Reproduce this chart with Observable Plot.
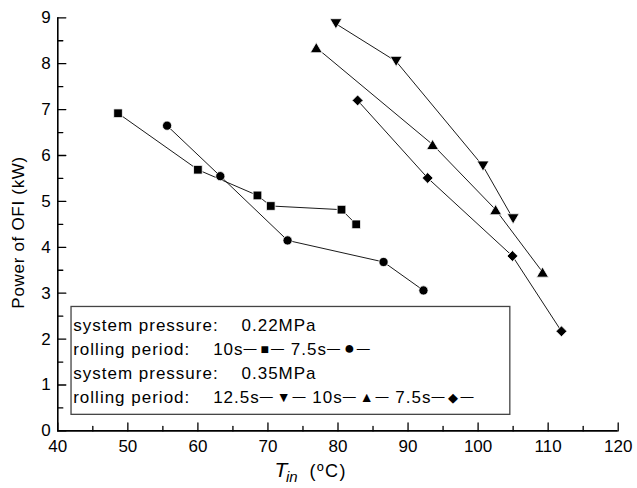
<!DOCTYPE html>
<html>
<head>
<meta charset="utf-8">
<script src="https://cdn.jsdelivr.net/npm/d3@7"></script>
<script src="https://cdn.jsdelivr.net/npm/@observablehq/plot@0.6"></script>
<style>
  body { margin: 0; background: white; }
</style>
</head>
<body>
<script>
// ---- data ----
const sq10X = [48.6, 60.0, 68.5, 70.4, 80.5, 82.6];
const sq10Y = [6.92, 5.69, 5.13, 4.90, 4.82, 4.50];
const ci75X = [55.6, 63.2, 72.8, 86.5, 92.2];
const ci75Y = [6.65, 5.55, 4.15, 3.68, 3.06];
const dn125X = [79.7, 88.3, 100.7, 105.0];
const dn125Y = [8.87, 8.05, 5.77, 4.62];
const up10X = [76.9, 93.5, 102.5, 109.2];
const up10Y = [8.35, 6.24, 4.82, 3.46];
const di75X = [82.8, 92.8, 104.9, 111.9];
const di75Y = [7.20, 5.51, 3.81, 2.17];

const xMajor = [40, 50, 60, 70, 80, 90, 100, 110, 120];
const xMinor = [45, 55, 65, 75, 85, 95, 105, 115];
const yMajor = [0, 1, 2, 3, 4, 5, 6, 7, 8, 9];
const yMinor = [0.5, 1.5, 2.5, 3.5, 4.5, 5.5, 6.5, 7.5, 8.5];

const yLabel = "Power of OFI (kW)";
const xLabelMain = "T";
const xLabelSub = "in";
const xLabelUnit = "(ºC)";
const NB = "\u00A0";
const legendRows = [
  "system pressure:" + NB.repeat(4) + "0.22MPa",
  "rolling period:" + NB.repeat(4) + "10s—■— 7.5s—●—",
  "system pressure:" + NB.repeat(4) + "0.35MPa",
  "rolling period:" + NB.repeat(4) + "12.5s—▼— 10s—▲— 7.5s—◆—"
];

// ---- helpers ----
const zip = (xs, ys) => xs.map((x, i) => ({x, y: ys[i]}));
const triUp = {draw(c, size) { const r = Math.sqrt(size / Math.PI), w = 1.3 * r, h = 1.1 * r;
  c.moveTo(0, -h); c.lineTo(w, h); c.lineTo(-w, h); c.closePath(); }};
const triDown = {draw(c, size) { const r = Math.sqrt(size / Math.PI), w = 1.3 * r, h = 1.1 * r;
  c.moveTo(0, h); c.lineTo(w, -h); c.lineTo(-w, -h); c.closePath(); }};
const tickShape = {draw(c, l) { c.moveTo(0, 0); c.lineTo(0, -l); }};

const series = [
  {data: zip(sq10X, sq10Y), symbol: "square", r: 4.9},
  {data: zip(ci75X, ci75Y), symbol: "circle", r: 4.6},
  {data: zip(dn125X, dn125Y), symbol: triDown, r: 4.6},
  {data: zip(up10X, up10Y), symbol: triUp, r: 4.6},
  {data: zip(di75X, di75Y), symbol: "diamond2", r: 4.9}
];

const seriesMarks = series.flatMap(s => [
  Plot.line(s.data, {x: "x", y: "y", stroke: "black", strokeWidth: 0.9}),
  Plot.dot(s.data, {x: "x", y: "y", symbol: s.symbol, r: s.r, fill: "black", stroke: "white", strokeWidth: 0.8})
]);

// legend layout (data units of the frame)
const legendBox = [{x1: 41.96, x2: 104.6, y1: 0.35, y2: 2.70}];
const legendX = 42.2, legendTop = 2.185, legendStep = 0.523;

const chart = Plot.plot({
  width: 637,
  height: 488,
  marginLeft: 57.3,
  marginRight: 19.3,
  marginTop: 17.3,
  marginBottom: 57.6,
  style: {fontFamily: "'Liberation Sans', Arial, sans-serif", fontSize: "17px", color: "black", background: "white", overflow: "visible"},
  x: {domain: [40, 120]},
  y: {domain: [0, 9]},
  marks: [
    // axes lines
    Plot.ruleY([0], {stroke: "black", strokeWidth: 1.6}),
    Plot.ruleX([40], {stroke: "black", strokeWidth: 1.6}),
    // inward ticks
    Plot.vector(xMajor, {x: d => d, y: 0, length: 8, anchor: "start", shape: tickShape, stroke: "black", strokeWidth: 1.3}),
    Plot.vector(xMinor, {x: d => d, y: 0, length: 4.5, anchor: "start", shape: tickShape, stroke: "black", strokeWidth: 1.3}),
    Plot.vector(yMajor, {x: 40, y: d => d, length: 8, rotate: 90, anchor: "start", shape: tickShape, stroke: "black", strokeWidth: 1.3}),
    Plot.vector(yMinor, {x: 40, y: d => d, length: 5, rotate: 90, anchor: "start", shape: tickShape, stroke: "black", strokeWidth: 1.3}),
    // tick labels
    Plot.axisX({ticks: xMajor, tickSize: 0, tickPadding: 9, label: null, fontSize: 17}),
    Plot.axisY({ticks: yMajor, tickSize: 0, tickPadding: 7, label: null, fontSize: 17}),
    // axis titles
    Plot.text([yLabel], {frameAnchor: "left", dx: -39, dy: 8, rotate: -90, textAnchor: "middle", fontSize: 17, fill: "black"}),
    Plot.text([xLabelMain], {frameAnchor: "bottom", dx: -63.5, dy: 46.3, textAnchor: "start", lineAnchor: "bottom", fontSize: 21, fontStyle: "italic", fill: "black"}),
    Plot.text([xLabelSub], {frameAnchor: "bottom", dx: -52, dy: 51.3, textAnchor: "start", lineAnchor: "bottom", fontSize: 15, fontStyle: "italic", fill: "black"}),
    Plot.text([xLabelUnit], {frameAnchor: "bottom", dx: -28.5, dy: 46.3, textAnchor: "start", lineAnchor: "bottom", fontSize: 18, fill: "black"}),
    // data
    ...seriesMarks,
    // legend
    Plot.rect(legendBox, {x1: "x1", x2: "x2", y1: "y1", y2: "y2", fill: "white", stroke: "#444", strokeWidth: 1.3}),
    Plot.text(legendRows, {x: legendX, y: (d, i) => legendTop - i * legendStep, text: d => d, textAnchor: "start", lineAnchor: "bottom", fontSize: 17, fill: "black"})
  ]
});

// ---- text styling touches (letter spacing, legend line-symbol-line glyphs) ----
const SVGNS = "http://www.w3.org/2000/svg";
const symbolSize = {"■": 14, "●": 18, "▼": 14, "▲": 14, "◆": 13};
function styleLegendRow(el, str) {
  el.textContent = "";
  const tokens = str.split(/([—■●▼▲◆])/).filter(s => s.length);
  let shift = 0, prevSymbol = false;
  for (const tok of tokens) {
    const ts = document.createElementNS(SVGNS, "tspan");
    ts.textContent = tok;
    let target = 0;
    if (tok === "—") { ts.setAttribute("font-size", 13); target = -1.5; if (prevSymbol) ts.setAttribute("dx", 1); }
    else if (symbolSize[tok]) { ts.setAttribute("font-size", symbolSize[tok]); target = -1; ts.setAttribute("dx", 3); }
    const dy = target - shift;
    if (dy) ts.setAttribute("dy", dy);
    shift = target;
    prevSymbol = !!symbolSize[tok];
    el.appendChild(ts);
  }
}
d3.select(chart).selectAll("text").each(function() {
  const t = this.textContent;
  if (legendRows.includes(t)) { this.setAttribute("letter-spacing", "1"); styleLegendRow(this, t); }
  else if (t === yLabel) this.setAttribute("letter-spacing", "0.7");
  else if (t === xLabelUnit) this.setAttribute("letter-spacing", "1.5");
});

document.body.appendChild(chart);
</script>
</body>
</html>
